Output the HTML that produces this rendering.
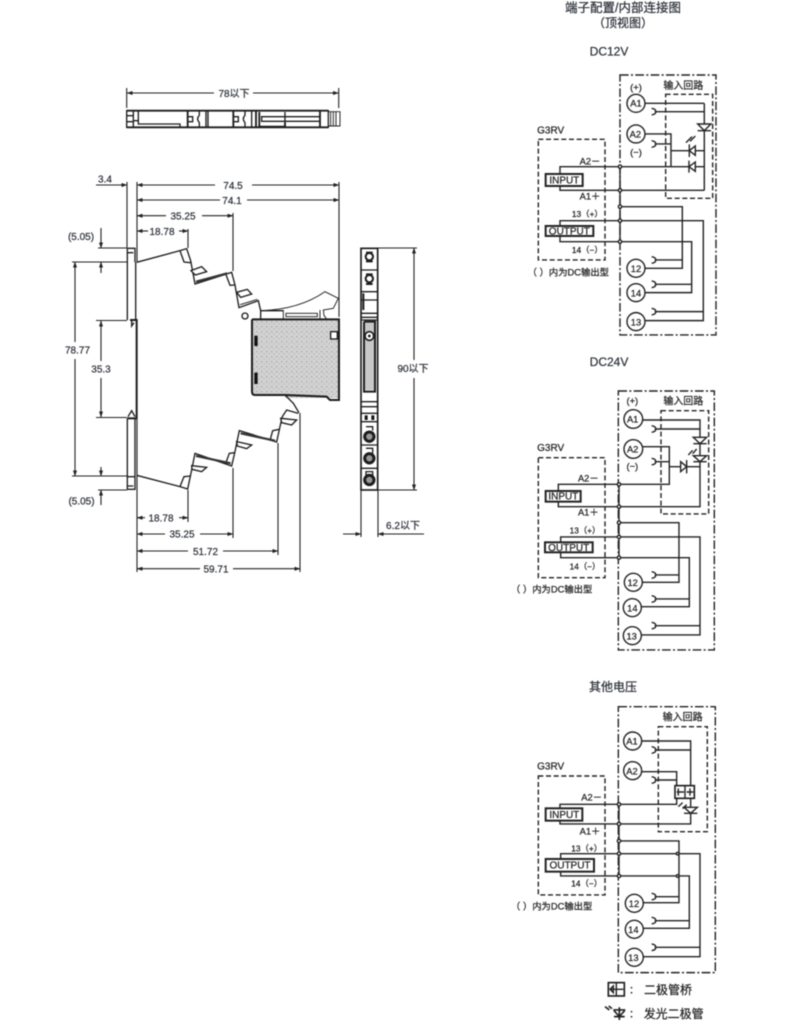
<!DOCTYPE html>
<html><head><meta charset="utf-8"><style>
html,body{margin:0;padding:0;background:#fff}
svg{display:block;filter:blur(.4px)}
text{font-family:"Liberation Sans","Noto Sans CJK SC",sans-serif;fill:#2b2f38;stroke:#2b2f38;stroke-width:.22;text-anchor:middle}
.d line,.d path{stroke:#222;stroke-width:1.1;fill:none}
.a{marker-start:url(#ar);marker-end:url(#ar)}
.s{marker-start:url(#ar)}
.e{marker-end:url(#ar)}
.m path,.m line,.m rect,.m circle{stroke:#1c1c1c;stroke-width:4;fill:none}
.m .w{fill:#fff}
.m .k{fill:#111;stroke:none}
.m .t{stroke-width:5.5}
.m .f{stroke-width:2.8}
.m .h{stroke-width:6.5;stroke:#333}
.m .r{stroke-width:6}
.m .x{stroke-width:9;fill:#999}
.c path,.c rect,.c circle{stroke:#222;stroke-width:4.2;fill:none}
.c .o{stroke-dasharray:26 7 6 7}
.c .n{stroke-dasharray:15 8}
.c .w{fill:#fff}
.c .b{stroke-width:6;fill:#fff}
.c text{font-size:28px;fill:#222;stroke:#222;stroke-width:.7}
.c text.l{font-size:30px}
</style></head><body>
<svg width="790" height="1025" viewBox="0 0 790 1025" xmlns="http://www.w3.org/2000/svg">
<defs>
<marker id="ar" viewBox="0 0 6 6" refX="5.5" refY="3" markerWidth="6" markerHeight="6" markerUnits="userSpaceOnUse" orient="auto-start-reverse"><path d="M0,1 L6,3 L0,5 Z" fill="#222"/></marker>
<pattern id="g" width="5" height="5" patternUnits="userSpaceOnUse"><rect width="5" height="5" fill="#d2d2d2"/><rect x="1" y="1" width="1.4" height="1.4" fill="#aaa"/><rect x="3.4" y="3.2" width="1.4" height="1.4" fill="#bbb"/></pattern>
</defs>

<!-- dimension lines -->
<g class="d">
<line x1="126.7" y1="88" x2="126.7" y2="108"/><line x1="338.7" y1="88" x2="338.7" y2="108"/>
<line class="s" x1="127" y1="93" x2="214" y2="93"/><line class="e" x1="253" y1="93" x2="338.5" y2="93"/>
<line x1="127" y1="182" x2="127" y2="248"/><line x1="137" y1="182" x2="137" y2="262"/>
<line x1="339" y1="182" x2="339" y2="317"/>
<line class="e" x1="96" y1="185" x2="127" y2="185"/>
<line class="s" x1="137" y1="185" x2="215" y2="185"/><line class="e" x1="252" y1="185" x2="339" y2="185"/>
<line class="s" x1="137" y1="200" x2="220" y2="200"/><line class="e" x1="247" y1="200" x2="339" y2="200"/>
<line class="s" x1="137" y1="215.7" x2="166" y2="215.7"/><line class="e" x1="202" y1="215.7" x2="233" y2="215.7"/>
<line x1="233" y1="213" x2="233" y2="271"/>
<line class="s" x1="137" y1="231" x2="148" y2="231"/><line class="e" x1="179" y1="231" x2="188" y2="231"/>
<line x1="188" y1="229" x2="188" y2="248"/>
<line x1="98" y1="248" x2="127" y2="248"/><line x1="72" y1="262" x2="127" y2="262"/><line x1="96" y1="320.5" x2="127" y2="320.5"/>
<line class="e" x1="101" y1="228" x2="101" y2="248"/><line class="s" x1="101" y1="262" x2="101" y2="273"/>
<line class="s" x1="75" y1="262" x2="75" y2="342"/><line class="e" x1="75" y1="359" x2="75" y2="476"/>
<line class="s" x1="101" y1="321" x2="101" y2="361"/><line class="e" x1="101" y1="378" x2="101" y2="417"/>
<line x1="96" y1="417.5" x2="127" y2="417.5"/>
<line x1="72" y1="476" x2="127" y2="476"/><line x1="98" y1="490" x2="127" y2="490"/>
<line class="e" x1="101" y1="467" x2="101" y2="476"/><line class="s" x1="101" y1="490" x2="101" y2="505"/>
<line x1="137" y1="476" x2="137" y2="572"/><line x1="137" y1="418" x2="137" y2="476"/>
<line x1="188" y1="490" x2="188" y2="522"/><line x1="233" y1="468" x2="233" y2="538"/>
<line x1="278" y1="443" x2="278" y2="555"/><line x1="300" y1="413" x2="300" y2="572"/>
<line class="s" x1="137" y1="517.7" x2="145" y2="517.7"/><line class="e" x1="179" y1="517.7" x2="188" y2="517.7"/>
<line class="s" x1="137" y1="534" x2="165" y2="534"/><line class="e" x1="200" y1="534" x2="233" y2="534"/>
<line class="s" x1="137" y1="551" x2="188" y2="551"/><line class="e" x1="223" y1="551" x2="278" y2="551"/>
<line class="s" x1="137" y1="568.7" x2="200" y2="568.7"/><line class="e" x1="233" y1="568.7" x2="300" y2="568.7"/>
<line x1="378" y1="248" x2="417" y2="248"/><line x1="378" y1="490" x2="417" y2="490"/>
<line class="s" x1="414" y1="248" x2="414" y2="360"/><line class="e" x1="414" y1="378" x2="414" y2="490"/>
<line x1="361" y1="490" x2="361" y2="537"/><line x1="378" y1="490" x2="378" y2="537"/>
<line class="e" x1="343" y1="534" x2="361" y2="534"/><line class="s" x1="378" y1="534" x2="424" y2="534"/>
</g>
<g font-size="10">
<text x="234" y="97">78以下</text>
<text x="105" y="182.500">3.4</text>
<text x="233" y="189">74.5</text><text x="232" y="204">74.1</text>
<text x="183" y="219.500">35.25</text><text x="162" y="235">18.78</text>
<text x="81" y="240">(5.05)</text>
<text x="77.500" y="353.500">78.77</text><text x="101" y="372.500">35.3</text>
<text x="81.500" y="504.500">(5.05)</text>
<text x="161" y="521.500">18.78</text><text x="182" y="537.500">35.25</text>
<text x="205.500" y="555">51.72</text><text x="216" y="572.500">59.71</text>
<text x="413" y="372">90以下</text><text x="403" y="529">6.2以下</text>
</g>

<!-- top view -->
<g class="m" transform="translate(120,100) scale(.3333)">
<rect x="20" y="32" width="605" height="50"/>
<path class="t" d="M20,32H625M20,82H625"/>
<path d="M40,32V82M20,47H40M20,65H40M40,62H55V72H180V82M55,32V62"/>
<path class="t" d="M203,32V82M340,32V82"/>
<path d="M203,50H218V65H203M238,32V46Q228,56 238,68V82M258,32V82M264,32V82"/>
<path d="M340,50H355V65H340M375,32V46Q365,56 375,68V82M395,32V82"/>
<path class="t" d="M408,32V82M418,36V80H495V68"/>
<path d="M425,50H495V64H425ZM495,36V50M495,64V82M495,50H600M495,64H600"/>
<path class="t" d="M600,32V82"/>
<path class="f" d="M625,35H660V78H625M632,35V78M640,35V78M648,35V78"/>
</g>

<!-- side view upper/lower profile -->
<g class="m" transform="translate(120,240) scale(.3333)">
<path d="M22,25H45V67M22,25V240M22,38H40"/>
<path d="M47,67V240"/>
<path class="r" d="M30,240H50V535"/>
<path d="M50,67L180,32L200,26L212,62L225,132L335,97L345,135L357,203L415,182L422,212H490"/>
<path d="M180,32L192,66L212,68M318,104L330,136L344,135"/>
<path class="w" d="M213,92L245,80L260,95L226,105ZM350,157L382,148L395,162L362,172Z"/>
<path class="h" d="M228,125L322,100"/><path class="f" d="M360,194L412,178"/>
<path class="f" d="M424,212Q540,208 615,155L655,175L640,205L610,210L612,226L622,240M490,210V238M600,210V238"/>
<rect class="f" x="498" y="220" width="94" height="10"/>
<path d="M422,212V238"/>
<circle cx="375" cy="228" r="9"/>
<path d="M35,240V258L42,248"/>
</g>
<rect x="252" y="319" width="87" height="76" fill="url(#g)"/>
<rect x="285" y="390" width="54" height="8" fill="url(#g)"/>
<g class="m" transform="translate(120,240) scale(.3333)">
<path class="r" d="M396,238V455Q396,465 405,465H495L620,470L630,480H657V238H620M396,238H420M420,238H620"/>
<rect class="w" x="632" y="275" width="20" height="22"/>
<rect class="k" x="403" y="287" width="10" height="31"/>
<rect class="k" x="403" y="398" width="10" height="34"/>
</g>
<g class="m" transform="translate(120,370) scale(.3333)">
<path d="M22,145V358H45V145M22,320H45M22,348H40"/>
<path class="r" d="M22,145H50"/>
<path d="M24,140L35,122L45,140"/>
<path d="M50,316L180,350L203,357L215,300L225,250L335,288L345,245L358,182L470,216L480,170L487,140L500,120L535,130"/>
<path d="M495,75L520,100L537,128"/>
<path d="M180,350L192,320L212,318M316,283L328,250L345,248M450,212L458,182L478,178"/>
<path class="w" d="M215,287L260,292L245,305L216,298ZM350,215L395,225L380,236L352,228ZM482,145L530,150L515,165L485,158Z"/>
<path class="h" d="M228,258L332,280"/><path class="h" d="M362,190L465,212"/>
</g>

<!-- front view -->
<g class="m" transform="translate(350,240) scale(.3333)">
<rect x="33" y="25" width="50" height="725" style="stroke-width:5"/>
<path d="M33,90H83M33,155H83M33,180H83M33,220H83M33,232H83M33,240H83M33,485H83M33,500H83M33,520H83M33,545H83M33,615H83M33,685H83"/>
<path class="r" d="M40,160V210"/>
<rect x="44" y="245" width="28" height="205" style="fill:#c8c8c8;stroke:none"/>
<path class="r" d="M42,245V455H75V245H42"/>
<circle class="w" cx="58" cy="288" r="13" style="stroke-width:5"/><circle class="k" cx="58" cy="288" r="4"/>
<path class="r" d="M48,38H68M48,64H68M48,103H68M48,132H68"/>
<circle class="r" cx="58" cy="50" r="11"/><circle class="r" cx="58" cy="116" r="11"/>
<circle class="x" cx="58" cy="590" r="14"/><circle class="x" cx="58" cy="655" r="14"/><circle class="x" cx="58" cy="720" r="14"/>
<path d="M48,560H68V572M48,625H68V640M48,695H68V705H48Z"/>
<rect class="k" x="44" y="526" width="9" height="14"/><rect class="k" x="64" y="526" width="9" height="14"/>
</g>

<!-- headings -->
<text x="623" y="12" font-size="12.500">端子配置/内部连接图</text>
<text x="623" y="27" font-size="12">（顶视图）</text>
<text x="609" y="55.500" font-size="12">DC12V</text>
<text x="609" y="366" font-size="12">DC24V</text>
<text x="613" y="691" font-size="12">其他电压</text>

<!-- DC12V -->
<g class="c" transform="translate(510,0) scale(.3333)">
<rect class="o" x="330" y="225" width="288" height="780"/>
<rect class="n" x="467" y="283" width="141" height="312"/>
<rect class="n" x="85" y="418" width="200" height="362"/>
<path d="M330,500V725"/>
<path d="M150,522V500H583M150,558V571H583M583,310V571M405,310H583M436,335H583M405,402H483V500M436,432H483M483,452H583"/>
<path d="M330,620H517V805H405M436,780H517M150,678V662H580V962H405M436,935H580M150,708V725H545V878H405M436,853H545"/>
<path d="M425,325Q440,328 436,335Q440,342 425,345M425,422Q440,425 436,432Q440,439 425,442M425,770Q440,773 436,780Q440,787 425,790M425,843Q440,846 436,853Q440,860 425,863M425,925Q440,928 436,935Q440,942 425,945"/>
<path class="w" d="M563,372H603L583,392ZM563,392H603"/>
<path class="w" d="M538,433V471M538,452L556,438V466ZM528,428L546,410M540,424L556,408"/>
<path class="w" d="M537,482V518M537,500L556,486V514Z"/>
<circle class="w" cx="378" cy="310" r="27"/><circle class="w" cx="378" cy="402" r="27"/>
<circle class="w" cx="378" cy="805" r="27"/><circle class="w" cx="378" cy="878" r="27"/><circle class="w" cx="378" cy="965" r="27"/>
<circle class="w" cx="330" cy="500" r="5"/><circle class="w" cx="330" cy="571" r="5"/><circle class="w" cx="330" cy="620" r="5"/><circle class="w" cx="330" cy="662" r="5"/><circle class="w" cx="330" cy="725" r="5"/>
<rect class="b" x="107" y="522" width="111" height="36"/><rect class="b" x="107" y="678" width="143" height="30"/>
<text x="163" y="551" class="l">INPUT</text><text x="178" y="704" class="l">OUTPUT</text>
<text x="378" y="320">A1</text><text x="376" y="412">A2</text><text x="378" y="816">12</text><text x="378" y="889">14</text><text x="378" y="976">13</text>
<text x="378" y="272">(+)</text><text x="378" y="466">(−)</text>
<text x="520" y="267" class="l">输入回路</text>
<text x="122" y="400" class="l">G3RV</text>
<text x="240" y="494">A2－</text><text x="240" y="599">A1＋</text>
<text x="232" y="651" style="font-size:25px">13（+）</text><text x="232" y="759" style="font-size:25px">14（−）</text>
<text x="175" y="827">（ ）内为DC输出型</text>
</g>

<!-- DC24V -->
<g class="c" transform="translate(510,345) scale(.3333)">
<rect class="o" x="325" y="138" width="288" height="777"/>
<rect class="n" x="453" y="197" width="143" height="310"/>
<rect class="n" x="85" y="338" width="200" height="360"/>
<path d="M327,418V638"/>
<path d="M145,438V418H478V305H398M145,470V485H570V225H398M436,252H570M436,350H478M478,365H570"/>
<path d="M327,533H507V712H398M436,690H507M152,592V576H570V870H395M436,842H570M152,622V638H538V785H395M436,762H538"/>
<path d="M425,242Q440,245 436,252Q440,259 425,262M425,340Q440,343 436,350Q440,357 425,360M425,680Q440,683 436,690Q440,697 425,700M425,752Q440,755 436,762Q440,769 425,772M425,832Q440,835 436,842Q440,849 425,852"/>
<path class="w" d="M550,277H590L570,296ZM550,296H590"/>
<path class="w" d="M550,332H590L570,350ZM550,350H590M535,330L548,316M548,326L560,312"/>
<path class="w" d="M530,345V385M530,365L512,350V380Z"/>
<circle class="w" cx="370" cy="222" r="28"/><circle class="w" cx="370" cy="312" r="28"/>
<circle class="w" cx="370" cy="712" r="27"/><circle class="w" cx="367" cy="788" r="27"/><circle class="w" cx="367" cy="872" r="27"/>
<circle class="w" cx="327" cy="418" r="5"/><circle class="w" cx="327" cy="485" r="5"/><circle class="w" cx="327" cy="533" r="5"/><circle class="w" cx="327" cy="576" r="5"/><circle class="w" cx="327" cy="638" r="5"/>
<rect class="b" x="107" y="438" width="105" height="32"/><rect class="b" x="105" y="592" width="143" height="30"/>
<text x="160" y="464" class="l">INPUT</text><text x="176" y="618" class="l">OUTPUT</text>
<text x="368" y="232">A1</text><text x="368" y="322">A2</text><text x="368" y="723">12</text><text x="367" y="799">14</text><text x="365" y="883">13</text>
<text x="367" y="177">(+)</text><text x="367" y="374">(−)</text>
<text x="520" y="178" class="l">输入回路</text>
<text x="122" y="318" class="l">G3RV</text>
<text x="235" y="410">A2－</text><text x="235" y="512">A1＋</text>
<text x="225" y="565" style="font-size:25px">13（+）</text><text x="225" y="673" style="font-size:25px">14（−）</text>
<text x="125" y="742">（ ）内为DC输出型</text>
</g>

<!-- other -->
<g class="c" transform="translate(510,670) scale(.3333)">
<rect class="o" x="325" y="110" width="291" height="798"/>
<rect class="n" x="445" y="170" width="147" height="315"/>
<rect class="n" x="85" y="318" width="200" height="357"/>
<path d="M327,403V618"/>
<path d="M396,213H542V462H150V452M150,415V403H500V305H396M436,240H542M436,330H500"/>
<path d="M327,513H507V698H400M436,680H507M152,567V551H570V860H400M436,832H570M152,605V618H538V775H400M436,752H538"/>
<path d="M425,230Q440,233 436,240Q440,247 425,250M425,320Q440,323 436,330Q440,337 425,340M425,670Q440,673 436,680Q440,687 425,690M425,742Q440,745 436,752Q440,759 425,762M425,822Q440,825 436,832Q440,839 425,842"/>
<rect class="w" x="495" y="347" width="58" height="38" style="stroke-width:5"/>
<path d="M525,347V385M500,366H522M505,355V377M530,366H550M540,355V377"/>
<path class="w" d="M522,412H562L542,430ZM522,430H562M505,410L518,398M518,416L530,404"/>
<circle class="w" cx="368" cy="213" r="27"/><circle class="w" cx="368" cy="302" r="27"/>
<circle class="w" cx="373" cy="700" r="27"/><circle class="w" cx="373" cy="778" r="27"/><circle class="w" cx="373" cy="862" r="27"/>
<circle class="w" cx="327" cy="403" r="5"/><circle class="w" cx="327" cy="462" r="5"/><circle class="w" cx="327" cy="513" r="5"/><circle class="w" cx="327" cy="551" r="5"/><circle class="w" cx="327" cy="618" r="5"/>
<circle class="w" cx="503" cy="551" r="4"/><circle class="w" cx="503" cy="618" r="4"/>
<rect class="b" x="107" y="415" width="110" height="37"/><rect class="b" x="107" y="567" width="145" height="38"/>
<text x="163" y="444" class="l">INPUT</text><text x="180" y="596" class="l">OUTPUT</text>
<text x="366" y="223">A1</text><text x="366" y="313">A2</text><text x="372" y="711">12</text><text x="370" y="789">14</text><text x="370" y="873">13</text>
<text x="518" y="152" class="l">输入回路</text>
<text x="122" y="298" class="l">G3RV</text>
<text x="245" y="391">A2－</text><text x="240" y="493">A1＋</text>
<text x="230" y="544" style="font-size:25px">13（+）</text><text x="230" y="649" style="font-size:25px">14（−）</text>
<text x="125" y="719">（ ）内为DC输出型</text>
<!-- legend -->
<rect class="w" x="295" y="938" width="48" height="40" style="stroke-width:5"/>
<path d="M319,938V978M300,958H340M310,948V968L300,958Z"/>
<path style="stroke-width:5" d="M310,1020H346M328,1012V1050M312,1040H344M328,1040L312,1022M328,1040L344,1022M285,1010L298,1020M296,1008L306,1016"/>
<text x="372" y="970" class="l">：</text><text x="474" y="972" class="l" style="font-size:36px">二极管桥</text>
<text x="372" y="1042" class="l">：</text><text x="491" y="1044" class="l" style="font-size:36px">发光二极管</text>
</g>
</svg>
</body></html>
